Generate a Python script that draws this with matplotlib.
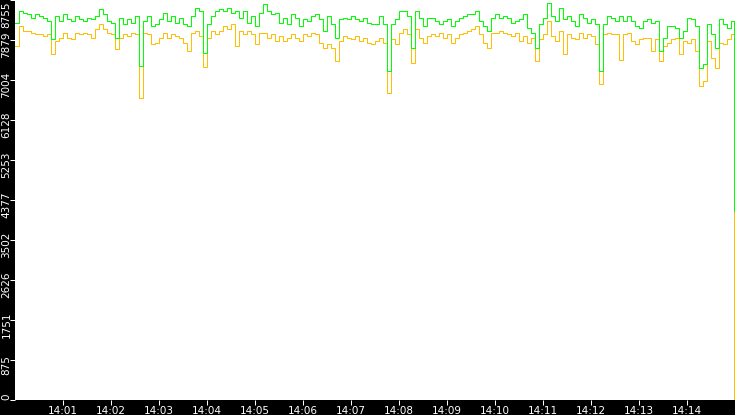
import matplotlib
matplotlib.use('Agg')
import matplotlib.pyplot as plt
import matplotlib.dates as mdates
import matplotlib.transforms as mtransforms
import numpy as np

# samples every 5 s from 14:00:00, last one is the drop at the very end
start = np.datetime64('2024-01-01T14:00:00')
end = np.datetime64('2024-01-01T14:15:00')
times = np.arange(start, end, np.timedelta64(5, 's'))
times = np.append(times, np.datetime64('2024-01-01T14:14:59'))

green = [
    8252, 8514, 8470, 8449, 8361, 8449, 8405, 8361, 8295, 7901,
    8405, 8295, 8449, 8339, 8295, 8405, 8339, 8295, 8361, 8339,
    8405, 8558, 8449, 8295, 8252, 7923, 8361, 8230, 8339, 8252,
    8405, 7310, 8295, 8405, 8186, 8230, 8339, 8470, 8295, 8405,
    8252, 8361, 8230, 8186, 8405, 8580, 8514, 7595, 8230, 8405,
    8514, 8558, 8514, 8580, 8470, 8514, 8361, 8514, 8252, 8405,
    8186, 8470, 8667, 8514, 8449, 8470, 8252, 8361, 8230, 8449,
    8361, 8186, 8339, 8295, 8405, 8449, 8339, 8076, 8405, 8230,
    7923, 8339, 8361, 8339, 8405, 8339, 8295, 8361, 8252, 8230,
    8230, 8405, 8230, 7201, 8230, 8339, 8514, 8514, 8405, 7704,
    8514, 8361, 8186, 8361, 8361, 8295, 8230, 8295, 8339, 8186,
    8295, 8361, 8405, 8449, 8449, 8514, 8295, 8186, 8076, 8361,
    8449, 8361, 8405, 8361, 8252, 8295, 8339, 8449, 8142, 8033,
    7704, 8230, 8361, 8689, 8405, 8295, 8580, 8339, 8405, 8295,
    8186, 8449, 8361, 8252, 8339, 8230, 7201, 8230, 8405, 8361,
    8295, 8405, 8295, 8405, 8295, 8186, 8142, 8295, 8339, 8252,
    8295, 7639, 7923, 8186, 8186, 8142, 7923, 8076, 8361, 8339,
    8186, 7267, 7354, 8230, 8011, 7704, 8339, 8230, 8142, 8295,
    4140,
]

orange = [
    7748, 8186, 8076, 8076, 8033, 8011, 8011, 7967, 8011, 7573,
    7857, 7923, 8033, 7923, 7901, 8033, 8011, 8033, 8011, 7923,
    8120, 8230, 8120, 8033, 8011, 7682, 7923, 8011, 7967, 8033,
    8011, 6610, 8033, 8011, 7792, 7814, 7923, 8033, 7923, 8011,
    7967, 7923, 7814, 7639, 8033, 8076, 7967, 7288, 7923, 8076,
    8011, 8076, 8186, 8120, 8230, 7748, 8076, 8011, 8076, 8011,
    7792, 8033, 8033, 7923, 8011, 7857, 7967, 7857, 7923, 8011,
    7923, 7857, 8011, 7967, 8033, 8011, 7814, 7704, 7792, 7704,
    7420, 7857, 7967, 7923, 7901, 7967, 7857, 7923, 7814, 7792,
    7857, 7923, 7814, 6719, 7901, 7792, 8033, 8120, 8011, 7376,
    8120, 7923, 7814, 7967, 8011, 7967, 8033, 7923, 8011, 7814,
    7923, 8011, 8033, 8076, 8120, 8186, 8011, 7814, 7704, 8033,
    8033, 8076, 8033, 8011, 7967, 8033, 7857, 7967, 7814, 7923,
    7420, 7901, 8011, 8295, 7967, 7857, 8076, 7573, 8011, 7923,
    7901, 8033, 7923, 8011, 7967, 7792, 6917, 8011, 8033, 8011,
    8011, 7442, 8011, 8033, 7857, 7792, 7901, 7923, 7923, 7639,
    7901, 7420, 7748, 7814, 7901, 7923, 7573, 7857, 7814, 7901,
    7639, 6873, 6982, 7857, 7485, 7267, 7814, 7792, 7901, 8011,
    0,
]

y_ticks = [0, 875.5, 1751, 2626.5, 3502, 4377.5, 5253, 6128.5, 7004, 7879.5, 8755]
y_labels = ['0', '875', '1751', '2626', '3502', '4377', '5253', '6128', '7004', '7879', '8755']

fig = plt.figure(figsize=(7.35, 4.15), dpi=100, facecolor='black')
ax = fig.add_axes([15 / 735, 15 / 415, 720 / 735, 400 / 415])
ax.set_facecolor('white')

ax.plot(times, orange, color='#ffbf00', lw=0.72, drawstyle='steps-post', snap=True)
ax.plot(times, green, color='#00ff00', lw=0.72, drawstyle='steps-post', snap=True)

ax.set_xlim(start, end)
ax.set_ylim(0, 8755)

for s in ax.spines.values():
    s.set_visible(False)

ax.xaxis.set_major_locator(mdates.MinuteLocator(byminute=range(1, 15)))
ax.xaxis.set_major_formatter(mdates.DateFormatter('%H:%M'))
ax.set_yticks(y_ticks)
ax.set_yticklabels(y_labels)

ax.tick_params(axis='x', colors='white', length=3.6, width=0.72, pad=1, labelsize=7.5)
ax.tick_params(axis='y', colors='white', length=3.6, width=0.72, pad=-1, labelsize=7.5)

for i, lab in enumerate(ax.get_yticklabels()):
    lab.set_rotation(90)
    lab.set_ha('right')
    if i == 0:
        lab.set_va('bottom')
        dy = 0
    elif i == len(y_labels) - 1:
        lab.set_va('top')
        dy = -2
    else:
        lab.set_va('center')
        dy = -5
    lab.set_transform(lab.get_transform() + mtransforms.ScaledTranslation(0, dy / 100, fig.dpi_scale_trans))

fig.savefig('out.png', dpi=100, facecolor='black')
